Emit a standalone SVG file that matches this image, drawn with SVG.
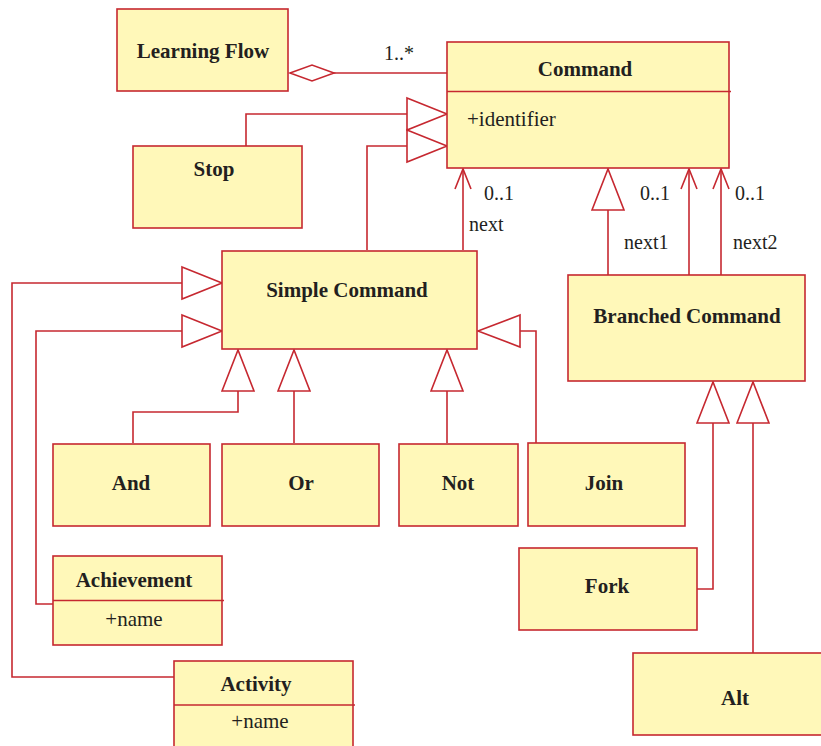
<svg xmlns="http://www.w3.org/2000/svg" width="821" height="746" viewBox="0 0 821 746">
  <style>
    .box { fill: #FFF8B9; stroke: #C62830; stroke-width: 1.6; }
    .ln { fill: none; stroke: #C62830; stroke-width: 1.6; }
    .tri { fill: #FFFFFF; stroke: #C62830; stroke-width: 1.6; stroke-linejoin: miter; }
    text { font-family: 'Liberation Serif', Tinos, 'Times New Roman', Times, 'DejaVu Serif', serif; fill: #231F20; }
    .title { font-size: 21px; font-weight: bold; text-anchor: middle; }
    .attr { font-size: 21px; }
    .lbl { font-size: 20px; }
  </style>

  <rect width="821" height="746" fill="#FFFFFF"/>

  <!-- connectors -->
  <g id="connectors">
    <!-- aggregation Learning Flow <>- Command -->
    <line class="ln" x1="334" y1="73" x2="447" y2="73"/>
    <polygon class="tri" points="290,73 312,65 334,73 312,81"/>
    <text class="lbl" x="384" y="60">1..*</text>

    <!-- Stop -> Command (generalisation) -->
    <polyline class="ln" points="246,146 246,114 407,114"/>
    <polygon class="tri" points="407,98 447,114 407,130"/>
    <!-- Simple Command -> Command (generalisation) -->
    <polyline class="ln" points="367,250 367,146 407,146"/>
    <polygon class="tri" points="407,130 447,146 407,162"/>

    <!-- Simple Command next -> Command -->
    <line class="ln" x1="463" y1="250" x2="463" y2="169"/>
    <polyline class="ln" points="455,189 463,169 471,189"/>
    <text class="lbl" x="484" y="200">0..1</text>
    <text class="lbl" x="469" y="231">next</text>

    <!-- Branched Command -> Command (generalisation) -->
    <line class="ln" x1="608" y1="275" x2="608" y2="210"/>
    <polygon class="tri" points="592,210 608,169 624,210"/>
    <!-- next1 / next2 -->
    <line class="ln" x1="689" y1="275" x2="689" y2="169"/>
    <polyline class="ln" points="681,189 689,169 697,189"/>
    <line class="ln" x1="721" y1="275" x2="721" y2="169"/>
    <polyline class="ln" points="713,189 721,169 729,189"/>
    <text class="lbl" x="640" y="200">0..1</text>
    <text class="lbl" x="735" y="200">0..1</text>
    <text class="lbl" x="624" y="249">next1</text>
    <text class="lbl" x="733" y="249">next2</text>

    <!-- Activity -> Simple Command -->
    <polyline class="ln" points="174,677 12,677 12,283 182,283"/>
    <polygon class="tri" points="182,267 222,283 182,299"/>
    <!-- Achievement -> Simple Command -->
    <polyline class="ln" points="53,604 36,604 36,331 182,331"/>
    <polygon class="tri" points="182,315 222,331 182,347"/>

    <!-- And / Or / Not -> Simple Command -->
    <polyline class="ln" points="133,443 133,412 238,412 238,391"/>
    <polygon class="tri" points="222,391 238,350 254,391"/>
    <line class="ln" x1="294" y1="443" x2="294" y2="391"/>
    <polygon class="tri" points="278,391 294,350 310,391"/>
    <line class="ln" x1="447" y1="443" x2="447" y2="391"/>
    <polygon class="tri" points="431,391 447,350 463,391"/>

    <!-- Join -> Simple Command -->
    <polyline class="ln" points="536,443 536,331 520,331"/>
    <polygon class="tri" points="520,315 478,331 520,347"/>

    <!-- Fork / Alt -> Branched Command -->
    <polyline class="ln" points="697,589 713,589 713,423"/>
    <polygon class="tri" points="697,423 713,382 729,423"/>
    <line class="ln" x1="753" y1="653" x2="753" y2="423"/>
    <polygon class="tri" points="737,423 753,382 769,423"/>
  </g>

  <!-- nodes -->
  <g id="learning-flow">
    <rect class="box" x="117" y="9" width="171" height="82"/>
    <text class="title" x="203" y="58">Learning Flow</text>
  </g>

  <g id="command">
    <rect class="box" x="447" y="42" width="282" height="126"/>
    <line class="ln" x1="447" y1="91.5" x2="731" y2="91.5"/>
    <text class="title" x="585" y="76">Command</text>
    <text class="attr" x="467" y="126">+identifier</text>
  </g>

  <g id="stop">
    <rect class="box" x="133" y="146" width="169" height="82"/>
    <text class="title" x="214" y="176">Stop</text>
  </g>

  <g id="simple-command">
    <rect class="box" x="222" y="251" width="255" height="98"/>
    <text class="title" x="347" y="297">Simple Command</text>
  </g>

  <g id="branched-command">
    <rect class="box" x="568" y="275" width="237" height="106"/>
    <text class="title" x="687" y="323">Branched Command</text>
  </g>

  <g id="and">
    <rect class="box" x="53" y="444" width="157" height="82"/>
    <text class="title" x="131" y="490">And</text>
  </g>

  <g id="or">
    <rect class="box" x="222" y="444" width="157" height="82"/>
    <text class="title" x="301" y="490">Or</text>
  </g>

  <g id="not">
    <rect class="box" x="399" y="444" width="119" height="82"/>
    <text class="title" x="458" y="490">Not</text>
  </g>

  <g id="join">
    <rect class="box" x="528" y="443" width="157" height="83"/>
    <text class="title" x="604" y="490">Join</text>
  </g>

  <g id="achievement">
    <rect class="box" x="53" y="556" width="169" height="89"/>
    <line class="ln" x1="53" y1="600.5" x2="224" y2="600.5"/>
    <text class="title" x="134" y="587">Achievement</text>
    <text class="attr" x="134" y="626" text-anchor="middle">+name</text>
  </g>

  <g id="fork">
    <rect class="box" x="519" y="548" width="178" height="82"/>
    <text class="title" x="607" y="593">Fork</text>
  </g>

  <g id="activity">
    <rect class="box" x="174" y="661" width="179" height="100"/>
    <line class="ln" x1="174" y1="705" x2="355" y2="705"/>
    <text class="title" x="256" y="691">Activity</text>
    <text class="attr" x="260" y="728" text-anchor="middle">+name</text>
  </g>

  <g id="alt">
    <rect class="box" x="633" y="653" width="200" height="82"/>
    <text class="title" x="735" y="705">Alt</text>
  </g>
</svg>
